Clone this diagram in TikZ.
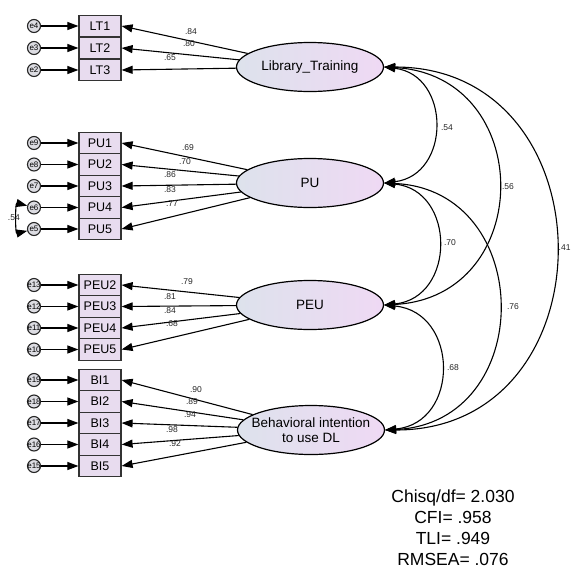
\documentclass[tikz,border=0pt]{standalone}
\usepackage{fontspec}
\setmainfont{Liberation Sans}
\usetikzlibrary{shapes.geometric,arrows.meta,calc}
\definecolor{boxfill}{HTML}{E8DCEF}
\definecolor{latl}{HTML}{DDE2EC}
\definecolor{latr}{HTML}{EFD9F4}
\definecolor{errfill}{HTML}{DCDCE2}
\begin{document}
\begin{tikzpicture}[x=1pt,y=-1pt,
  ind/.style={draw=black!80, line width=1.2pt, fill=boxfill, minimum width=42pt, minimum height=21.5pt, inner sep=0pt, font=\fontsize{12.5}{12.5}\selectfont},
  lat/.style={ellipse, draw=black, line width=1.2pt, left color=latl, right color=latr, minimum width=147pt, minimum height=49pt, inner sep=0pt},
  lattext/.style={font=\fontsize{13.5}{15}\selectfont, align=center, inner sep=0pt},
  err/.style={circle, draw=black!85, line width=1.1pt, fill=errfill, minimum size=13pt, inner sep=0pt},
  errlab/.style={font=\fontsize{8}{8}\selectfont, inner sep=0pt},
  arr/.style={line width=1.1pt, -{Triangle[length=11pt,width=8pt]}},
  cov/.style={line width=1.1pt, {Triangle[length=11pt,width=8pt]}-{Triangle[length=11pt,width=8pt]}},
  wt/.style={font=\fontsize{8.5}{8.5}\selectfont, text=black!85, inner sep=0pt},
]
\useasboundingbox[fill=white] (0,0) rectangle (576,571);

% latent variables
\node[lat] (lt)  at (310,67)  {};
\node[lat] (pu)  at (310,183) {};
\node[lat] (peu) at (310,305) {};
\node[lat] (bi)  at (311,430) {};
\node[lattext] (ltt)  at (lt.center)  {Library\_Training};
\node[lattext] (put)  at (pu.center)  {PU};
\node[lattext] (peut) at (peu.center) {PEU};
\node[lattext] (bit)  at (bi.center)  {Behavioral intention\\to use DL};

% indicators and errors
\foreach \n/\y/\e in {LT1/26/e4, LT2/48/e3, LT3/70/e2,
                      PU1/143/e9, PU2/164.5/e8, PU3/186/e7, PU4/207.5/e6, PU5/229/e5,
                      PEU2/285/e13, PEU3/306.5/e12, PEU4/328/e11, PEU5/349.5/e10,
                      BI1/380/e19, BI2/401.5/e18, BI3/423/e17, BI4/444.5/e16, BI5/466/e15}{
  \node[ind] (\n) at (100,\y) {\n};
  \node[err] (\e) at (34,\y) {};
  \node[errlab] (\e l) at (\e.center) {\e};
  \draw[arr] (\e) -- (\n.west);
}

% loadings
\foreach \n in {LT1,LT2,LT3}{\draw[arr] (lt) -- (\n.east);}
\foreach \n in {PU1,PU2,PU3,PU4,PU5}{\draw[arr] (pu) -- (\n.east);}
\foreach \n in {PEU2,PEU3,PEU4,PEU5}{\draw[arr] (peu) -- (\n.east);}
\foreach \n in {BI1,BI2,BI3,BI4,BI5}{\draw[arr] (bi) -- (\n.east);}

% loading labels
\node[wt] (w1)  at (191,32)  {.84};
\node[wt] (w2)  at (189,44)  {.80};
\node[wt] (w3)  at (170,58)  {.65};
\node[wt] (w4)  at (188,148) {.69};
\node[wt] (w5)  at (185,162) {.70};
\node[wt] (w6)  at (170,175) {.86};
\node[wt] (w7)  at (170,190) {.83};
\node[wt] (w8)  at (172,204) {.77};
\node[wt] (w9)  at (187,282) {.79};
\node[wt] (w10) at (170,297) {.81};
\node[wt] (w11) at (170,311) {.84};
\node[wt] (w12) at (172,324) {.68};
\node[wt] (w13) at (196,390) {.90};
\node[wt] (w14) at (192,402) {.89};
\node[wt] (w15) at (190,415) {.94};
\node[wt] (w16) at (172,430) {.98};
\node[wt] (w17) at (175,444) {.92};

% error covariance
\draw[cov] (e6.165) .. controls +(-12,-3) and +(-12,3) .. (e5.195);
\node[wt, anchor=east] (c0) at (20,218) {.54};

% covariances between latent variables
\draw[cov] (lt.east)  .. controls +(67,8)   and +(67,-8)   .. (pu.east);
\draw[cov] (lt.east)  .. controls +(152,8)  and +(152,-8)  .. (peu.east);
\draw[cov] (lt.east)  .. controls +(228,0)  and +(228,0)   .. (bi.east);
\draw[cov] (pu.east)  .. controls +(72,7)   and +(72,-7)   .. (peu.east);
\draw[cov] (pu.east)  .. controls +(152,7)  and +(152,-7)  .. (bi.east);
\draw[cov] (peu.east) .. controls +(75,7)   and +(75,-7)   .. (bi.east);

\node[wt] (c1) at (447,128) {.54};
\node[wt] (c2) at (508,187) {.56};
\node[wt] (c3) at (450,243) {.70};
\node[wt] (c4) at (513,307) {.76};
\node[wt] (c5) at (453,368) {.68};
\node[wt, anchor=west] (c6) at (558.5,248) {.41};

% fit statistics
\node[font=\fontsize{17.5}{21}\selectfont, align=center, inner sep=0pt] (fit) at (453,528)
  {Chisq/df= 2.030\\CFI= .958\\TLI= .949\\RMSEA= .076};
\end{tikzpicture}
\end{document}
